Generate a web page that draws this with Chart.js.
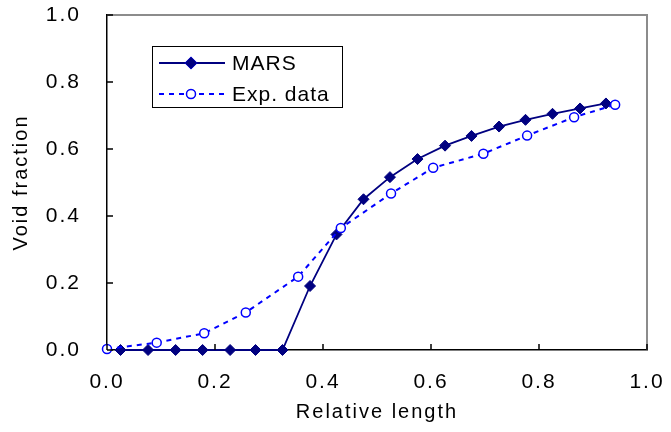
<!DOCTYPE html>
<html>
<head>
<meta charset="utf-8">
<script src="https://cdn.jsdelivr.net/npm/chart.js@4/dist/chart.umd.min.js"></script>
<style>
  html, body { margin: 0; padding: 0; background: #fff; }
  #wrap { width: 671px; height: 432px; }
</style>
</head>
<body>
<div id="wrap"><canvas id="voidChart" width="671" height="432"></canvas></div>
<script>
// ── Data ───────────────────────────────────────────────
const marsX = [0.025, 0.076, 0.127, 0.177, 0.228, 0.275, 0.325, 0.376, 0.425, 0.475,
               0.524, 0.575, 0.626, 0.675, 0.726, 0.775, 0.825, 0.876, 0.924];
const marsY = [0, 0, 0, 0, 0, 0, 0, 0.191, 0.345, 0.450,
               0.516, 0.570, 0.610, 0.639, 0.667, 0.687, 0.705, 0.721, 0.736];

const expX = [0.0, 0.092, 0.180, 0.257, 0.354, 0.433, 0.526, 0.604, 0.697, 0.778, 0.865, 0.941];
const expY = [0.003, 0.022, 0.050, 0.112, 0.219, 0.364, 0.467, 0.544, 0.586, 0.640, 0.695, 0.732];

const tickValues = [0, 0.2, 0.4, 0.6, 0.8, 1.0];
const seriesNames = ['MARS', 'Exp. data'];

const NAVY = '#000080';
const BLUE = '#0000ff';
const FONT = "'Liberation Sans', Arial, sans-serif";

function toPoints(xs, ys) {
    return xs.map((x, i) => ({ x: x, y: ys[i] }));
}

// letter spacing, frame, inward ticks and boxed legend
const framePlugin = {
    id: 'frame',
    beforeLayout(chart) { chart.ctx.letterSpacing = '2px'; },
    beforeDraw(chart) { chart.ctx.letterSpacing = '2px'; },
    afterDraw(chart) {
        const ctx = chart.ctx;
        const a = chart.chartArea;
        const xs = chart.scales.x, ys = chart.scales.y;
        ctx.save();
        ctx.letterSpacing = '0px';

        // top and right edges in grey
        ctx.strokeStyle = '#8c8c8c';
        ctx.lineWidth = 2;
        ctx.beginPath();
        ctx.moveTo(a.left, a.top);
        ctx.lineTo(a.right, a.top);
        ctx.lineTo(a.right, a.bottom);
        ctx.stroke();

        // inward tick marks
        ctx.strokeStyle = '#000';
        ctx.lineWidth = 1.5;
        ctx.beginPath();
        tickValues.forEach(v => {
            const px = xs.getPixelForValue(v);
            ctx.moveTo(px, a.bottom);
            ctx.lineTo(px, a.bottom - 6);
            const py = ys.getPixelForValue(v);
            ctx.moveTo(a.left, py);
            ctx.lineTo(a.left + 6, py);
        });
        ctx.stroke();

        // legend box
        const bx = a.left + 45, by = a.top + 31, bw = 190, bh = 61;
        ctx.fillStyle = '#fff';
        ctx.fillRect(bx, by, bw, bh);
        ctx.strokeStyle = '#000';
        ctx.lineWidth = 1;
        ctx.strokeRect(bx + 0.5, by + 0.5, bw, bh);

        ctx.font = '21px ' + FONT;
        ctx.textBaseline = 'middle';
        ctx.letterSpacing = '1px';
        const rows = [by + 17, by + 48];
        chart.data.datasets.forEach(ds => {
            const row = ds.label === 'MARS' ? rows[0] : rows[1];
            ctx.save();
            ctx.strokeStyle = ds.borderColor;
            ctx.lineWidth = ds.borderWidth;
            ctx.setLineDash(ds.borderDash || []);
            ctx.beginPath();
            ctx.moveTo(bx + 7, row);
            ctx.lineTo(bx + 73, row);
            ctx.stroke();
            ctx.restore();
            Chart.helpers.drawPoint(ctx, {
                pointStyle: ds.pointStyle,
                radius: ds.pointRadius,
                borderWidth: ds.pointBorderWidth,
                rotation: 0
            }, bx + 39, row);
            ctx.fillStyle = ds.pointBackgroundColor;
            ctx.strokeStyle = ds.pointBorderColor;
            ctx.lineWidth = ds.pointBorderWidth;
            ctx.fill();
            ctx.stroke();
            ctx.fillStyle = '#000';
            ctx.fillText(ds.label, bx + 80, row + 1);
        });
        ctx.restore();
    }
};

const ctx = document.getElementById('voidChart').getContext('2d');
new Chart(ctx, {
    type: 'line',
    data: {
        datasets: [
            {
                label: seriesNames[1],
                data: toPoints(expX, expY),
                borderColor: BLUE,
                borderWidth: 2,
                borderDash: [5, 5],
                pointStyle: 'circle',
                pointRadius: 4.5,
                pointBorderWidth: 1.5,
                pointBackgroundColor: '#fff',
                pointBorderColor: BLUE,
                clip: false
            },
            {
                label: seriesNames[0],
                data: toPoints(marsX, marsY),
                borderColor: NAVY,
                borderWidth: 1.8,
                pointStyle: 'rectRot',
                pointRadius: 5.5,
                pointBorderWidth: 1,
                pointBackgroundColor: NAVY,
                pointBorderColor: NAVY,
                clip: false
            }
        ]
    },
    options: {
        responsive: false,
        animation: false,
        layout: { padding: { top: 15, right: 24, left: 0, bottom: 0 } },
        plugins: {
            legend: { display: false },
            tooltip: { enabled: false }
        },
        scales: {
            x: {
                type: 'linear',
                min: 0,
                max: 1,
                afterBuildTicks: s => { s.ticks = tickValues.map(v => ({ value: v })); },
                afterFit: s => { s.height = 82; s.paddingLeft = 0; s.paddingRight = 0; },
                grid: { display: false, drawTicks: false },
                border: { display: true, color: '#000', width: 1.5 },
                ticks: {
                    color: '#000',
                    padding: 20,
                    font: { size: 21, family: FONT },
                    callback: v => v.toFixed(1)
                },
                title: {
                    display: true,
                    text: 'Relative length',
                    color: '#000',
                    padding: 8,
                    font: { size: 20, family: FONT }
                }
            },
            y: {
                type: 'linear',
                min: 0,
                max: 1,
                afterBuildTicks: s => { s.ticks = tickValues.map(v => ({ value: v })); },
                afterFit: s => { s.width = 107; s.paddingTop = 0; s.paddingBottom = 0; },
                grid: { display: false, drawTicks: false },
                border: { display: true, color: '#000', width: 1.5 },
                ticks: {
                    color: '#000',
                    padding: 26,
                    font: { size: 21, family: FONT },
                    callback: v => v.toFixed(1)
                },
                title: {
                    display: true,
                    text: 'Void fraction',
                    color: '#000',
                    padding: 9,
                    font: { size: 20, family: FONT }
                }
            }
        }
    },
    plugins: [framePlugin]
});
</script>
</body>
</html>
